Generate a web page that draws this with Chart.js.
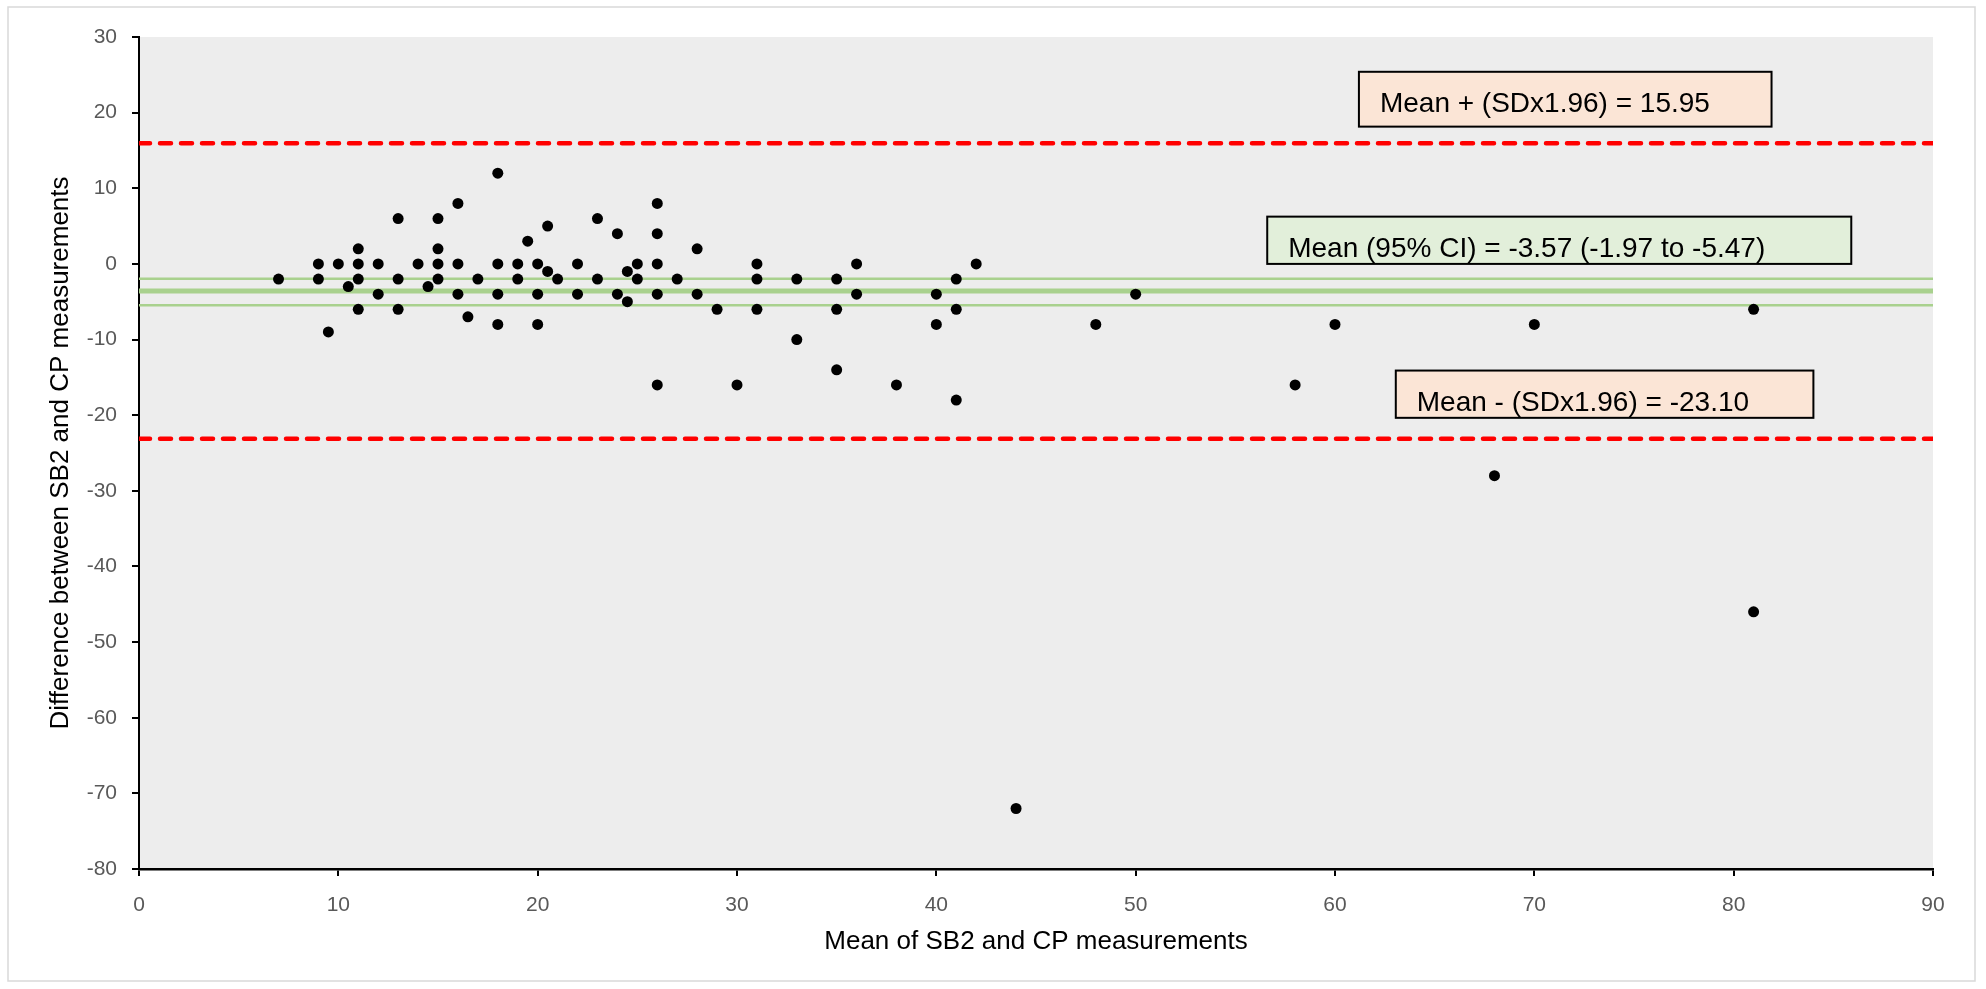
<!DOCTYPE html>
<html>
<head>
<meta charset="utf-8">
<script src="https://cdn.jsdelivr.net/npm/chart.js@4/dist/chart.umd.min.js"></script>
<style>
    html, body { margin: 0; padding: 0; background: #fff; }
    #wrap { width: 1986px; height: 989px; }
</style>
</head>
<body>
<div id="wrap"><canvas id="blandAltman" width="1986" height="989"></canvas></div>
<script>
// Bland-Altman: SB2 vs CP
const meanValues = [7, 9, 9, 9.5, 10, 10.5, 11, 11, 11, 11, 12, 12, 13, 13, 13, 14, 14.5, 15, 15, 15, 15,
    16, 16, 16, 16.5, 17, 18, 18, 18, 18, 19, 19, 19.5, 20, 20, 20, 20.5, 20.5, 21, 22, 22, 23, 23,
    24, 24, 24.5, 24.5, 25, 25, 26, 26, 26, 26, 26, 27, 28, 28, 29, 30, 31, 31, 31, 33, 33, 35, 35, 35,
    36, 36, 38, 40, 40, 41, 41, 41, 42, 44, 48, 50, 58, 60, 68, 70, 81, 81];
const diffValues = [-2, 0, -2, -9, 0, -3, 2, 0, -2, -6, 0, -4, 6, -2, -6, 0, -3, 6, 2, 0, -2,
    8, 0, -4, -7, -2, 12, 0, -4, -8, 0, -2, 3, 0, -4, -8, 5, -1, -2, 0, -4, 6, -2,
    4, -4, -1, -5, 0, -2, 8, 4, 0, -4, -16, -2, 2, -4, -6, -16, 0, -2, -6, -2, -10, -2, -6, -14,
    0, -4, -16, -4, -8, -2, -6, -18, 0, -72, -8, -4, -16, -8, -28, -8, -6, -46];

const xTicks = [0, 10, 20, 30, 40, 50, 60, 70, 80, 90];
const yTicks = [30, 20, 10, 0, -10, -20, -30, -40, -50, -60, -70, -80];

const meanDiff = -3.57;
const ciUpper = -1.97;
const ciLower = -5.47;
const upperLoA = 15.95;
const lowerLoA = -23.10;

const upperLabel = 'Mean + (SDx1.96) = 15.95';
const meanLabel = 'Mean (95% CI) = -3.57 (-1.97 to -5.47)';
const lowerLabel = 'Mean - (SDx1.96) = -23.10';

const FONT = "'Liberation Sans', Arial, sans-serif";
Chart.defaults.font.family = FONT;

function hline(y) {
    return [{ x: xTicks[0], y: y }, { x: xTicks[xTicks.length - 1], y: y }];
}

// text boxes, anchored in data units (left, top, right, bottom)
const boxes = [
    { text: upperLabel, x0: 61.2, y0: 25.4, x1: 81.9, y1: 18.15, fill: '#FBE5D6' },
    { text: meanLabel, x0: 56.6, y0: 6.25, x1: 85.9, y1: 0.0, fill: '#E2EFDA' },
    { text: lowerLabel, x0: 63.05, y0: -14.1, x1: 84.0, y1: -20.35, fill: '#FBE5D6' }
];

const backdrop = {
    id: 'backdrop',
    beforeDraw(chart) {
        const { ctx, chartArea: a } = chart;
        ctx.save();
        ctx.fillStyle = '#fff';
        ctx.fillRect(0, 0, chart.width, chart.height);
        ctx.strokeStyle = '#D9D9D9';
        ctx.lineWidth = 1.5;
        ctx.strokeRect(8, 7, chart.width - 19, chart.height - 15);
        ctx.fillStyle = '#EDEDED';
        ctx.fillRect(a.left, a.top, a.right - a.left, a.bottom - a.top);
        ctx.restore();
    }
};

const labelBoxes = {
    id: 'labelBoxes',
    afterDatasetsDraw(chart) {
        const { ctx } = chart;
        const xs = chart.scales.x, ys = chart.scales.y;
        ctx.save();
        ctx.font = '28px ' + FONT;
        ctx.textBaseline = 'alphabetic';
        ctx.textAlign = 'left';
        boxes.forEach(b => {
            const l = xs.getPixelForValue(b.x0), r = xs.getPixelForValue(b.x1);
            const t = ys.getPixelForValue(b.y0), bt = ys.getPixelForValue(b.y1);
            ctx.fillStyle = b.fill;
            ctx.fillRect(l, t, r - l, bt - t);
            ctx.strokeStyle = '#000';
            ctx.lineWidth = 2;
            ctx.strokeRect(l, t, r - l, bt - t);
            ctx.fillStyle = '#000';
            ctx.fillText(b.text, l + 21, t + 40);
        });
        ctx.restore();
    }
};

new Chart(document.getElementById('blandAltman'), {
    type: 'scatter',
    data: {
        datasets: [
            {
                label: 'Differences',
                data: meanValues.map((m, i) => ({ x: m, y: diffValues[i] })),
                backgroundColor: '#000',
                borderWidth: 0,
                pointRadius: 5.5,
                pointHoverRadius: 5.5
            },
            {
                label: 'Mean',
                data: hline(meanDiff),
                showLine: true,
                borderColor: '#A9D18E',
                borderWidth: 5,
                pointRadius: 0
            },
            {
                label: 'CI upper',
                data: hline(ciUpper),
                showLine: true,
                borderColor: '#A9D18E',
                borderWidth: 2.5,
                pointRadius: 0
            },
            {
                label: 'CI lower',
                data: hline(ciLower),
                showLine: true,
                borderColor: '#A9D18E',
                borderWidth: 2.5,
                pointRadius: 0
            },
            {
                label: 'Upper LoA',
                data: hline(upperLoA),
                showLine: true,
                borderColor: '#FF0000',
                borderWidth: 4.5,
                borderDash: [11, 10],
                borderCapStyle: 'round',
                pointRadius: 0
            },
            {
                label: 'Lower LoA',
                data: hline(lowerLoA),
                showLine: true,
                borderColor: '#FF0000',
                borderWidth: 4.5,
                borderDash: [11, 10],
                borderCapStyle: 'round',
                pointRadius: 0
            }
        ]
    },
    options: {
        responsive: false,
        animation: false,
        layout: { padding: { left: 0, right: 53, top: 37, bottom: 0 } },
        plugins: {
            legend: { display: false },
            tooltip: { enabled: false }
        },
        scales: {
            x: {
                type: 'linear',
                min: 0,
                max: 90,
                afterFit(scale) { scale.height = 120; },
                afterBuildTicks(scale) { scale.ticks = xTicks.map(v => ({ value: v })); },
                ticks: { color: '#595959', font: { size: 21 }, padding: 17 },
                grid: { drawOnChartArea: false, drawTicks: true, tickLength: 7, color: '#000', lineWidth: 2 },
                border: { display: true, color: '#000', width: 2.5 },
                title: {
                    display: true,
                    text: 'Mean of SB2 and CP measurements',
                    color: '#000',
                    font: { size: 26 },
                    padding: { top: 0, bottom: 32 }
                }
            },
            y: {
                type: 'linear',
                min: -80,
                max: 30,
                afterFit(scale) { scale.width = 139; },
                afterBuildTicks(scale) { scale.ticks = yTicks.map(v => ({ value: v })); },
                ticks: { color: '#595959', font: { size: 21 }, padding: 15 },
                grid: { drawOnChartArea: false, drawTicks: true, tickLength: 7, color: '#000', lineWidth: 2 },
                border: { display: true, color: '#000', width: 2 },
                title: {
                    display: true,
                    text: 'Difference between SB2 and CP measurements',
                    color: '#000',
                    font: { size: 26 },
                    padding: { top: 45, bottom: 0 }
                }
            }
        }
    },
    plugins: [backdrop, labelBoxes]
});
</script>
</body>
</html>
